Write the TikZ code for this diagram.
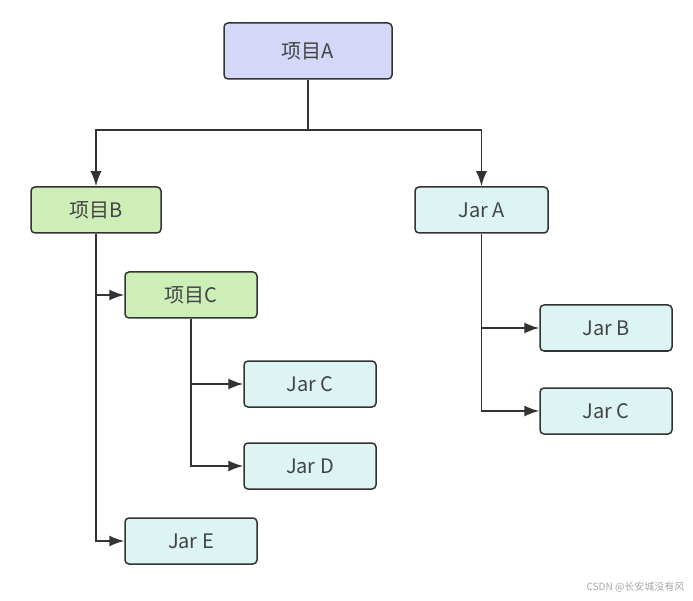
\documentclass[tikz,border=0pt]{standalone}
\usepackage{fontspec}
\setmainfont{Noto Sans CJK SC}
\usetikzlibrary{arrows.meta,positioning}
\definecolor{projblue}{HTML}{D4D7F7}
\definecolor{projgreen}{HTML}{CDEEB7}
\definecolor{jarcyan}{HTML}{DCF4F4}
\definecolor{linegray}{HTML}{333333}
\definecolor{textgray}{HTML}{444444}
\tikzset{
  box/.style={draw=linegray, line width=1.5pt, rounded corners=4pt,
    text=textgray, font=\fontsize{20}{24}\selectfont,
    minimum width=132pt, minimum height=46pt, inner sep=0pt},
  proj/.style={box, fill=projgreen},
  jar/.style={box, fill=jarcyan},
  link/.style={draw=linegray, line width=1.6pt},
  arr/.style={link, -{Latex[length=15pt,width=11pt]}},
}
\begin{document}
\begin{tikzpicture}[x=1pt,y=-1pt]
    \useasboundingbox (0,0) rectangle (693,601);
    \node[box, fill=projblue, minimum width=168pt, minimum height=56pt]
                               (pa)  at (308,51)    {项目A};
    \node[proj, minimum width=130pt] (pb) at (96,210) {项目B};
    \node[jar, minimum width=133pt]  (ja) at (481.5,210) {Jar A};
    \node[proj]                (pc)  at (191,295)   {项目C};
    \node[jar]                 (jc)  at (310,384)   {Jar C};
    \node[jar]                 (jd)  at (310,466)   {Jar D};
    \node[jar]                 (je)  at (191,541)   {Jar E};
    \node[jar]                 (jb2) at (606,328)   {Jar B};
    \node[jar]                 (jc2) at (606,411)   {Jar C};
    \coordinate (split) at (308,130);
    %
    \draw[link] (pa.south) -- (split);
    \draw[arr]  (split) -| (pb.north);
    \draw[arr]  (split) -| (ja.north);
    \draw[arr]  (pb.south) |- (pc.west);
    \draw[arr]  (pb.south) |- (je.west);
    \draw[arr]  (pc.south) |- (jc.west);
    \draw[arr]  (pc.south) |- (jd.west);
    \draw[arr]  (ja.south) |- (jb2.west);
    \draw[arr]  (ja.south) |- (jc2.west);
    %
    \node[text=gray!70, font=\fontsize{10}{12}\selectfont, anchor=east]
        (mark) at (688,587) {CSDN @长安城没有风};
\end{tikzpicture}
\end{document}
